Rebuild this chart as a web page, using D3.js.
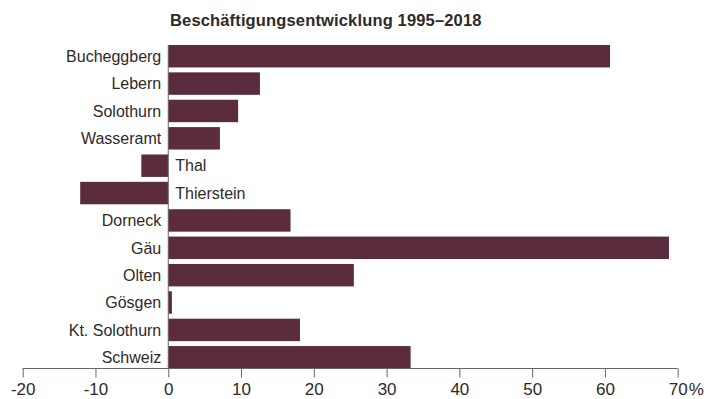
<!DOCTYPE html>
<html>
<head>
	<meta charset="utf-8">
	<title>Beschäftigungsentwicklung 1995–2018</title>
	<script src="https://cdn.jsdelivr.net/npm/d3@7"></script>
	<style>
		body { margin: 0; background: #fff; }
		text { font-family: "Liberation Sans", Arial, sans-serif; fill: #2e2a2b; }
	</style>
</head>
<body>
<div id="content"></div>

<script type="text/javascript">
	var regions = ['Bucheggberg', 'Lebern', 'Solothurn', 'Wasseramt', 'Thal', 'Thierstein',
		'Dorneck', 'Gäu', 'Olten', 'Gösgen', 'Kt. Solothurn', 'Schweiz'];
	var growth = [60.7, 12.6, 9.6, 7.1, -3.7, -12.1, 16.8, 68.8, 25.5, 0.5, 18.1, 33.3];
	var ticks = [-20, -10, 0, 10, 20, 30, 40, 50, 60, 70];

	var rows = regions.map((r, i) => ({ name: r, value: growth[i] }));

	var svg = d3.select('#content')
		.append('svg')
		.attr('width', 707)
		.attr('height', 399);

	var x = d3.scaleLinear().domain([-20, 70]).range([22.7, 677.7]);
	var y = d3.scaleBand().domain(regions).range([45, 368.5]).paddingInner(0.18).paddingOuter(0);

	svg.append('text')
		.attr('x', 170)
		.attr('y', 26)
		.attr('font-size', 16.5)
		.attr('font-weight', 'bold')
		.attr('letter-spacing', 0.15)
		.attr('fill', '#2a2526')
		.text('Beschäftigungsentwicklung 1995–2018');

	svg.selectAll('rect.bar')
		.data(rows)
		.enter()
		.append('rect')
		.attr('class', 'bar')
		.attr('x', d => x(Math.min(0, d.value)))
		.attr('y', d => y(d.name))
		.attr('width', d => Math.abs(x(d.value) - x(0)))
		.attr('height', y.bandwidth())
		.attr('fill', '#5a2c3e');

	// labels: left of zero for positive bars, right of zero for negative ones
	svg.selectAll('text.label')
		.data(rows)
		.enter()
		.append('text')
		.attr('class', 'label')
		.attr('x', d => d.value < 0 ? x(0) + 7 : x(0) - 7)
		.attr('y', d => y(d.name) + y.bandwidth() / 2)
		.attr('dy', '0.36em')
		.attr('text-anchor', d => d.value < 0 ? 'start' : 'end')
		.attr('font-size', 16)
		.text(d => d.name);

	// zero line
	svg.append('line')
		.attr('x1', x(0)).attr('x2', x(0))
		.attr('y1', y.range()[0]).attr('y2', y.range()[1])
		.attr('stroke', '#6b6466')
		.attr('stroke-width', 1);

	var axis = d3.axisBottom(x)
		.tickValues(ticks)
		.tickSize(9)
		.tickPadding(5)
		.tickFormat(d => d);

	var g = svg.append('g')
		.attr('transform', 'translate(0,368.5)')
		.call(axis);

	g.select('.domain').attr('stroke', '#6b6466').attr('d', 'M' + x(-20) + ',0H' + x(70));
	g.selectAll('.tick line').attr('stroke', '#6b6466');
	g.selectAll('.tick text')
		.attr('font-size', 17)
		.attr('font-family', '"Liberation Sans", Arial, sans-serif')
		.attr('fill', '#2e2a2b');

	g.append('text')
		.attr('x', x(70) + 11)
		.attr('y', 14)
		.attr('dy', '0.71em')
		.attr('text-anchor', 'start')
		.attr('font-size', 17)
		.attr('fill', '#2e2a2b')
		.text('%');
</script>
</body>
</html>
